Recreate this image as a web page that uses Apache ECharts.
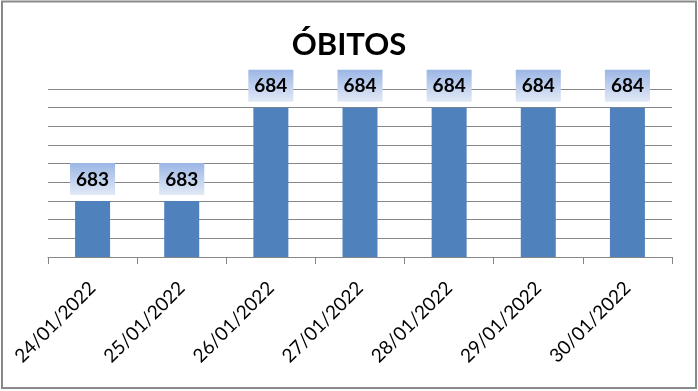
<!DOCTYPE html>
<html>
<head>
<meta charset="utf-8">
<script src="https://cdn.jsdelivr.net/npm/echarts@6/dist/echarts.min.js"></script>
<style>
html,body{margin:0;padding:0;background:#fff;}
#chart{width:698px;height:391px;}
</style>
</head>
<body>
<div id="chart"></div>
<script>
const titleText = 'ÓBITOS';
const categories = ['24/01/2022','25/01/2022','26/01/2022','27/01/2022','28/01/2022','29/01/2022','30/01/2022'];
const obitos = [683, 683, 684, 684, 684, 684, 684];
const yMin = 682.4, yMax = 684.2, yStep = 0.2;

const chart = echarts.init(document.getElementById('chart'), null, {renderer:'canvas'});
chart.setOption({
  animation: false,
  backgroundColor: '#ffffff',
  title: {
    text: titleText,
    left: 'center',
    top: 24,
    textStyle: {fontFamily: 'Lato', fontWeight: 'bold', fontSize: 31, color: '#000'}
  },
  graphic: [{
    type: 'rect',
    shape: {x: 2, y: 1.5, width: 694, height: 386.5},
    style: {fill: 'none', stroke: '#898989', lineWidth: 2},
    silent: true, z: 100
  }],
  grid: {left: 48, right: 26, top: 89, bottom: 134, outerBoundsMode: 'none', containLabel: false},
  xAxis: {
    type: 'category',
    data: categories,
    axisLine: {lineStyle: {color: '#868686', width: 1}},
    axisTick: {show: true, length: 7, lineStyle: {color: '#868686'}},
    axisLabel: {rotate: 45, margin: 28, fontFamily: 'Lato', fontSize: 19, color: '#000', interval: 0}
  },
  yAxis: {
    type: 'value',
    min: yMin, max: yMax, interval: yStep,
    axisLabel: {show: false},
    axisLine: {show: false},
    axisTick: {show: false},
    splitLine: {lineStyle: {color: '#868686', width: 1}}
  },
  series: [{
    type: 'bar',
    data: obitos,
    barWidth: 35,
    itemStyle: {color: '#4F81BD'},
    label: {
      show: true,
      position: 'top',
      distance: 6,
      fontFamily: 'Lato',
      fontWeight: 'bold',
      fontSize: 19,
      lineHeight: 19,
      color: '#000',
      padding: [7, 6, 6, 6],
      backgroundColor: new echarts.graphic.LinearGradient(0, 0, 0, 1, [
        {offset: 0, color: '#9BB6E5'},
        {offset: 1, color: '#E2E9F6'}
      ])
    }
  }]
});
</script>
</body>
</html>
